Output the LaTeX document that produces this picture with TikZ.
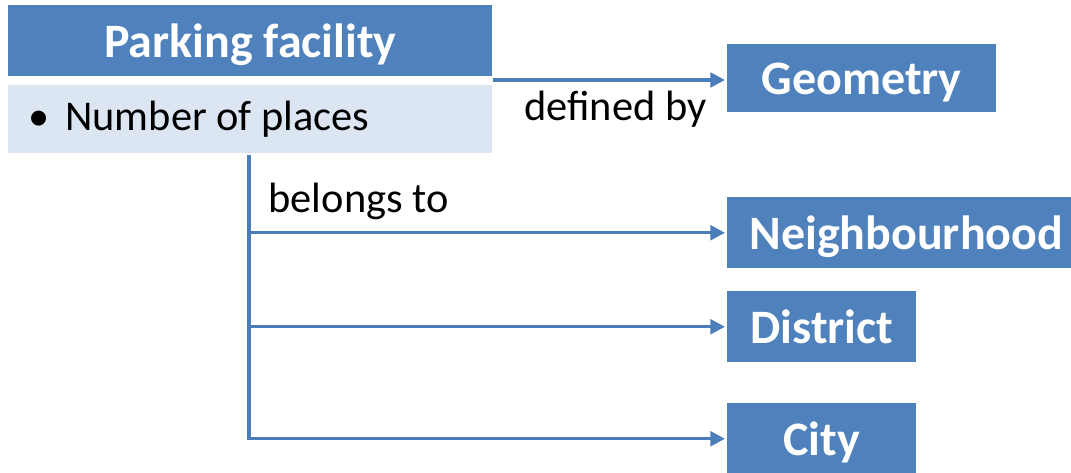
\documentclass[tikz,border=0pt]{standalone}
\usepackage{fontspec}
\setmainfont{Carlito}
\usetikzlibrary{arrows.meta}

\begin{document}
\begin{tikzpicture}[x=0.75pt, y=-0.75pt, >={Triangle[length=11pt, width=11pt]}]

	\def\boxx{727}
	\def\bigsize{36}
	\def\smallsize{31.8}
	
	% Colours
	\definecolor{classcolor}{HTML}{4F81BD}
	\definecolor{attrcolor}{HTML}{DCE6F2}
	\definecolor{linkcolor}{HTML}{4A7EBB}
	
	% Styles
	\tikzstyle{classbox}=[anchor=north west, fill=classcolor, text=white, inner sep=0pt,
		font=\fontsize{\bigsize}{42}\selectfont\bfseries, text height=25pt, text depth=0pt]
	\tikzstyle{attrbox}=[anchor=north west, fill=attrcolor, inner sep=0pt, inner xsep=15pt,
		align=flush left, text width=333pt, font=\fontsize{\smallsize}{38}\selectfont]
	\tikzstyle{link}=[linkcolor, line width=2.4pt, ->, shorten >=1.5pt]
	\tikzstyle{linklabel}=[inner sep=0pt, text=black, font=\fontsize{\smallsize}{38}\selectfont]
	
	\useasboundingbox (0,0) rectangle (1071,473);
	
	% Class and attribute
	\node[classbox, minimum width=363pt, minimum height=53.25pt] (parking) at (8,5) {Parking facility};
	\node[attrbox, minimum height=51pt] (places) at (8,85) {\makebox[27.75pt][l]{\textbullet}Number of places};
	
	% Targets
	\node[classbox, minimum width=201.75pt, minimum height=51pt] (geometry) at (\boxx,44) {Geometry};
	\node[classbox, minimum width=268.5pt, minimum height=53.25pt] (neighbourhood) at (\boxx,197) {Neighbourhood};
	\node[classbox, minimum width=141.75pt, minimum height=53.25pt] (district) at (\boxx,291) {District};
	\node[classbox, minimum width=141.75pt, minimum height=53.25pt] (city) at (\boxx,403) {City};
	
	% Links
	\coordinate (defsrc) at (493,80);
	\coordinate (belsrc) at (249,155);
	\draw[link] (defsrc) -- (defsrc -| geometry.west)
		node[linklabel, pos=1, anchor=base east, xshift=-14.25pt, yshift=-30.5pt]{defined by};
	\draw[link] (belsrc) |- (neighbourhood.west)
		node[linklabel, pos=0.5, anchor=base west, xshift=13.5pt, yshift=15.4pt]{belongs to};
	\draw[link] (belsrc) |- (district.west);
	\draw[link] (belsrc) |- (city.west);

\end{tikzpicture}
\end{document}
